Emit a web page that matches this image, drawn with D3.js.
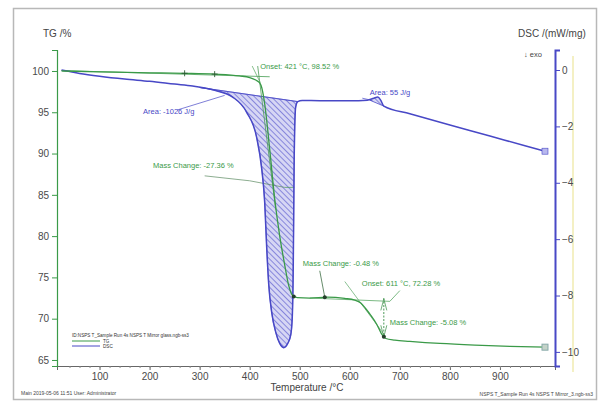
<!DOCTYPE html>
<html>
<head>
<meta charset="utf-8">
<script src="https://cdn.jsdelivr.net/npm/d3@7"></script>
<style>
  body { margin: 0; background: #fff; }
  svg { font-family: "Liberation Sans", Arial, sans-serif; }
</style>
</head>
<body>
<svg id="chart" width="601" height="403"></svg>
<script>
// TG curve, temperature in °C and mass in %
var tgTemp = [24, 100, 200, 270, 330, 380, 400, 412, 420, 424, 430, 440, 450, 460, 470, 478, 486, 495, 520, 555, 590, 610, 622, 632, 642, 654, 664, 672, 690, 720, 780, 850, 920, 990];
var tgMass = [100, 99.9, 99.78, 99.72, 99.62, 99.4, 99.2, 98.9, 98.55, 98.0, 96.0, 90.5, 84.5, 80.0, 76.5, 74.0, 72.8, 72.55, 72.5, 72.6, 72.45, 72.25, 71.9, 71.2, 70.4, 69.3, 68.1, 67.6, 67.4, 67.25, 67.0, 66.8, 66.65, 66.55];

// DSC curve, mW/mg
var dscTemp = [24, 60, 100, 150, 200, 250, 286, 330, 366, 394, 414, 424, 430, 434, 438, 444, 452, 460, 468, 476, 482, 485, 487, 488, 489, 490, 492, 496, 505, 540, 600, 635, 648, 656, 662, 668, 720, 800, 880, 950, 990];
var dscVal  = [0, -0.12, -0.22, -0.32, -0.4, -0.5, -0.57, -0.72, -0.96, -1.5, -2.4, -3.5, -4.7, -6.3, -7.6, -8.6, -9.3, -9.7, -9.85, -9.7, -9.4, -8.8, -7.0, -5.0, -3.0, -2.0, -1.3, -1.12, -1.08, -1.09, -1.09, -1.07, -1.0, -0.96, -1.08, -1.28, -1.55, -1.95, -2.34, -2.69, -2.88];

// hatched peak baselines [temp, dsc]
var peakBase = [[300, -0.62], [496, -1.12]];
var smallBase = [[640, -1.07], [668, -1.28]];

var xTicks = [100, 200, 300, 400, 500, 600, 700, 800, 900];
var tgTicks = [65, 70, 75, 80, 85, 90, 95, 100];
var dscTicks = [0, -2, -4, -6, -8, -10];

// annotations: [temp, value, text]
var tgNotes = [
    [421, 100.2, "Onset: 421 °C, 98.52 %"],
    [207, 88.25, "Mass Change: -27.36 %"],
    [506, 76.4, "Mass Change: -0.48 %"],
    [624, 73.96, "Onset: 611 °C, 72.28 %"],
    [680, 69.2, "Mass Change: -5.08 %"]
];
var dscNotes = [
    [187, -1.56, "Area: -1026 J/g"],
    [640, -0.89, "Area: 55 J/g"]
];

var tgColor = "#3a9a48";
var dscColor = "#4848c6";

var svg = d3.select("#chart");
var pLeft = 57, pRight = 555, pTop = 50, pBottom = 366;

var x = d3.scaleLinear().domain([15, 1010]).range([pLeft, pRight]);
var yTG = d3.scaleLinear().domain([64.27, 102.54]).range([pBottom, pTop]);
var yDSC = d3.scaleLinear().domain([-10.5, 0.71]).range([pBottom, pTop]);

// outer frame
svg.append("rect")
    .attr("x", 13.5).attr("y", 8.5).attr("width", 583).attr("height", 391)
    .attr("fill", "#fff").attr("stroke", "#b8b8b8").attr("stroke-width", 1.5);

// hatch pattern
var defs = svg.append("defs");
var pat = defs.append("pattern")
    .attr("id", "hatch").attr("patternUnits", "userSpaceOnUse")
    .attr("width", 4).attr("height", 4)
    .attr("patternTransform", "rotate(45)");
pat.append("rect").attr("width", 4).attr("height", 4).attr("fill", "#d6d6f4");
pat.append("line").attr("x1", 0).attr("y1", 0).attr("x2", 4).attr("y2", 0)
    .attr("stroke", "#5c5cd0").attr("stroke-width", 1.3);

// faint yellow scale line
svg.append("line")
    .attr("x1", 573).attr("x2", 573).attr("y1", 56).attr("y2", 372)
    .attr("stroke", "#f1ebb0").attr("stroke-width", 1.5);

// axes
var xAxis = svg.append("g").attr("transform", `translate(0,${pBottom})`)
    .call(d3.axisBottom(x).tickValues(xTicks).tickSize(4).tickPadding(3));
xAxis.select(".domain").attr("stroke", "#666");
xAxis.selectAll("line").attr("stroke", "#666");
svg.append("g").attr("transform", `translate(0,${pBottom})`)
    .call(d3.axisBottom(x).tickValues(d3.range(40, 1000, 20)).tickSize(2).tickFormat(""))
    .call(g => g.select(".domain").remove())
    .selectAll("line").attr("stroke", "#888");

var yAxisL = svg.append("g").attr("transform", `translate(${pLeft},0)`)
    .call(d3.axisLeft(yTG).tickValues(tgTicks).tickSize(5).tickPadding(3));
yAxisL.select(".domain").attr("stroke", tgColor).attr("stroke-width", 1.2);
yAxisL.selectAll("line").attr("stroke", tgColor);

var yAxisR = svg.append("g").attr("transform", `translate(${pRight},0)`)
    .call(d3.axisRight(yDSC).tickValues(dscTicks).tickSize(5).tickPadding(2));
yAxisR.select(".domain").attr("stroke", dscColor).attr("stroke-width", 2);
yAxisR.selectAll("line").attr("stroke", dscColor);

svg.selectAll(".tick text")
    .attr("font-size", 10).attr("fill", "#4a4a4a")
    .attr("font-family", "Liberation Sans, Arial, sans-serif");

// axis titles
svg.append("text").attr("x", 43).attr("y", 37).attr("font-size", 10).attr("fill", "#444").text("TG /%");
svg.append("text").attr("x", 518).attr("y", 37).attr("font-size", 10).attr("fill", "#444").text("DSC /(mW/mg)");
svg.append("text").attr("x", 524).attr("y", 57).attr("font-size", 7.5).attr("fill", "#444").text("↓ exo");
svg.append("text").attr("x", 307).attr("y", 391).attr("text-anchor", "middle")
    .attr("font-size", 10).attr("fill", "#444").text("Temperature /°C");

// hatched areas
var dscPts = dscTemp.map((t, i) => [t, dscVal[i]]);
function hatchArea(base) {
    var t0 = base[0][0], t1 = base[1][0];
    var bl = d3.scaleLinear().domain([t0, t1]).range([base[0][1], base[1][1]]);
    var pts = dscPts.filter(p => p[0] > t0 && p[0] < t1);
    pts = [base[0]].concat(pts, [base[1]]);
    return d3.area()
        .x(d => x(d[0]))
        .y0(d => yDSC(bl(d[0])))
        .y1(d => yDSC(d[1]))
        .curve(d3.curveMonotoneX)(pts);
}
svg.append("path").attr("d", hatchArea(peakBase)).attr("fill", "url(#hatch)")
    .attr("stroke", dscColor).attr("stroke-width", 0.6);
svg.append("path").attr("d", hatchArea(smallBase)).attr("fill", "url(#hatch)");
[peakBase, smallBase].forEach(b => {
    svg.append("line")
        .attr("x1", x(b[0][0])).attr("y1", yDSC(b[0][1]))
        .attr("x2", x(b[1][0])).attr("y2", yDSC(b[1][1]))
        .attr("stroke", dscColor).attr("stroke-width", 0.8);
});

// TG construction lines
var tgLine = d3.line().x(d => x(d[0])).y(d => yTG(d[1]));
function thin(pts, color, w, dash) {
    svg.append("path").attr("d", tgLine(pts)).attr("fill", "none")
        .attr("stroke", color).attr("stroke-width", w || 0.8)
        .attr("stroke-dasharray", dash || null);
}
thin([[24, 100.05], [440, 99.3]], "#5aa865", 0.9);
thin([[416, 100.6], [452, 83.2]], "#4c9a58", 0.8);
thin([[405, 100.6], [421, 98.6]], "#6ab070", 0.8);
thin([[470, 85.9], [489, 85.9]], "#4c9a58", 0.7);
thin([[310, 87.3], [400, 86.7], [470, 85.9]], "#5a8a60", 0.7);
thin([[520, 72.5], [680, 72.1], [700, 73.4]], "#5aa865", 0.8);
thin([[590, 74.5], [672, 67.8]], "#5aa865", 0.7);
thin([[540, 75.8], [550, 72.6]], "#3f6f45", 0.8);
thin([[668, 72.5], [668, 67.7]], "#4c9a58", 1, "2,1.5");
thin([[662, 71.0], [668, 72.4], [674, 71.0]], "#4c9a58", 0.8);
thin([[662, 69.2], [668, 67.8], [674, 69.2]], "#4c9a58", 0.8);

// DSC construction lines
var dscLine = d3.line().x(d => x(d[0])).y(d => yDSC(d[1]));
svg.append("path").attr("d", dscLine([[255, -1.42], [350, -0.9]]))
    .attr("stroke", dscColor).attr("stroke-width", 0.7).attr("fill", "none");
svg.append("path").attr("d", dscLine([[625, -1.0], [645, -1.08]]))
    .attr("stroke", dscColor).attr("stroke-width", 0.7).attr("fill", "none");

// main curves
svg.append("path")
    .attr("d", d3.line().x(d => x(d[0])).y(d => yDSC(d[1])).curve(d3.curveMonotoneX)(dscPts))
    .attr("fill", "none").attr("stroke", dscColor).attr("stroke-width", 1.5);
svg.append("path")
    .attr("d", d3.line().x(d => x(d[0])).y(d => yTG(d[1])).curve(d3.curveMonotoneX)(tgTemp.map((t, i) => [t, tgMass[i]])))
    .attr("fill", "none").attr("stroke", tgColor).attr("stroke-width", 1.3);

// markers
[[270, 99.72], [330, 99.62]].forEach(p => {
    svg.append("path").attr("d", `M${x(p[0])},${yTG(p[1]) - 3}V${yTG(p[1]) + 3}M${x(p[0]) - 3},${yTG(p[1])}H${x(p[0]) + 3}`)
        .attr("stroke", "#2d5a33").attr("stroke-width", 0.9);
});
[[488, 72.7], [550, 72.6], [668, 67.8]].forEach(p => {
    svg.append("circle").attr("cx", x(p[0])).attr("cy", yTG(p[1])).attr("r", 2)
        .attr("fill", "#23402a");
});
svg.append("rect").attr("x", x(990) - 3).attr("y", yTG(66.55) - 3).attr("width", 6).attr("height", 6)
    .attr("fill", "#c4d3c8").attr("stroke", "#8aa");
svg.append("rect").attr("x", x(990) - 3).attr("y", yDSC(-2.88) - 3).attr("width", 6).attr("height", 6)
    .attr("fill", "#b8b8ee").attr("stroke", dscColor).attr("stroke-width", 0.6);

// annotation texts
tgNotes.forEach(n => {
    svg.append("text").attr("x", x(n[0])).attr("y", yTG(n[1]))
        .attr("font-size", 7.5).attr("fill", tgColor).text(n[2]);
});
dscNotes.forEach(n => {
    svg.append("text").attr("x", x(n[0])).attr("y", yDSC(n[1]))
        .attr("font-size", 7.5).attr("fill", dscColor).text(n[2]);
});

// legend and footer
var lg = svg.append("g").attr("font-size", 4.6);
lg.append("text").attr("x", 72).attr("y", 337).attr("fill", "#333")
    .text("ID:NSPS T_Sample Run 4s NSPS T Mirror glass.ngb-ss3");
lg.append("line").attr("x1", 72).attr("x2", 100).attr("y1", 341).attr("y2", 341).attr("stroke", tgColor);
lg.append("text").attr("x", 103).attr("y", 343).attr("fill", "#333").text("TG");
lg.append("line").attr("x1", 72).attr("x2", 100).attr("y1", 346).attr("y2", 346).attr("stroke", dscColor);
lg.append("text").attr("x", 103).attr("y", 348).attr("fill", "#333").text("DSC");

svg.append("text").attr("x", 21).attr("y", 395).attr("font-size", 5).attr("fill", "#444")
    .text("Main   2019-05-06 11:51    User: Administrator");
svg.append("text").attr("x", 593).attr("y", 396).attr("text-anchor", "end").attr("font-size", 5).attr("fill", "#444")
    .text("NSPS T_Sample Run 4s NSPS T Mirror_3.ngb-ss3");
</script>
</body>
</html>
